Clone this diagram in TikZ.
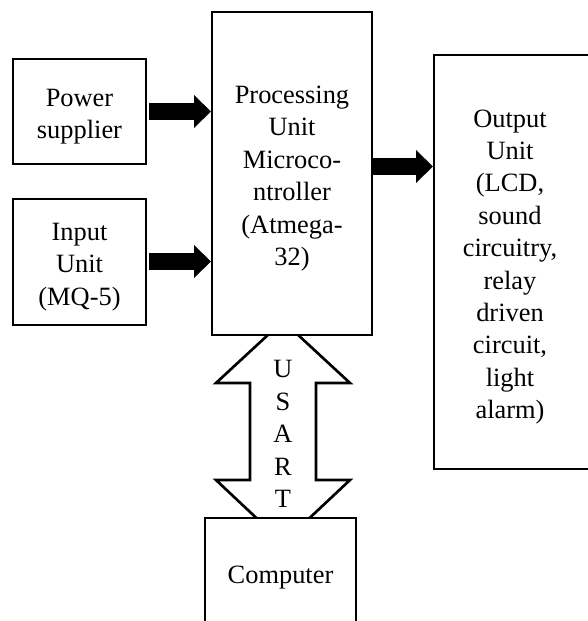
\documentclass[tikz,border=0pt]{standalone}
\usepackage{fontspec}
\setmainfont{Liberation Serif}
\usetikzlibrary{arrows.meta}
\begin{document}
\begin{tikzpicture}[x=0.75pt,y=-0.75pt,
  box/.style={draw=black, fill=white, line width=1.5pt, inner sep=0pt},
  txt/.style={align=center, font=\fontsize{19.8}{24.3}\selectfont, inner sep=0pt},
  boxtxt/.style={txt, yshift=-3.75pt},
  fat/.style={line width=12.75pt, -{Triangle[length=12.75pt, width=24pt]}},
  usart/.style={draw=black, fill=white, line width=2pt, line join=miter}]
\useasboundingbox (0,0) rectangle (588,621);
\clip (0,0) rectangle (588,621);

% two-headed USART link, its tips hidden under the boxes
\draw[usart] (283,321) -- (350,383) -- (316,383) -- (316,480) -- (350,480)
  -- (283,543) -- (216,480) -- (250,480) -- (250,383) -- (216,383) -- cycle;
\node[txt] (usartlbl) at (283,434) {U\\S\\A\\R\\T};

% blocks
\node[box, minimum width=99.75pt, minimum height=78.75pt] (power) at (79.5,111.5) {};
\node[boxtxt] at (power.center) {Power\\supplier};
\node[box, minimum width=99.75pt, minimum height=94.5pt] (input) at (79.5,262) {};
\node[boxtxt] at (input.center) {Input\\Unit\\(MQ-5)};
\node[box, minimum width=120pt, minimum height=242.25pt] (proc) at (292,173.5) {};
\node[boxtxt] at (proc.center) {Processing\\Unit\\Microco-\\ntroller\\(Atmega-\\32)};
\node[box, minimum width=127.5pt, minimum height=310.5pt] (out) at (519,262) {};
\node[boxtxt] at ([xshift=-6.75pt]out.center) {Output\\Unit\\(LCD,\\sound\\circuitry,\\relay\\driven\\circuit,\\light\\alarm)};
\node[box, minimum width=113.25pt, minimum height=82.5pt] (comp) at (280.5,573) {};
\node[boxtxt] at (comp.center) {Computer};

% data-flow arrows
\draw[fat] ([xshift=1.5pt]power.east |- 0,111.5) -- (proc.west |- 0,111.5);
\draw[fat] ([xshift=1.5pt]input.east |- 0,261.5) -- (proc.west |- 0,261.5);
\draw[fat] (proc.east |- 0,166.5) -- (out.west |- 0,166.5);
\end{tikzpicture}
\end{document}
